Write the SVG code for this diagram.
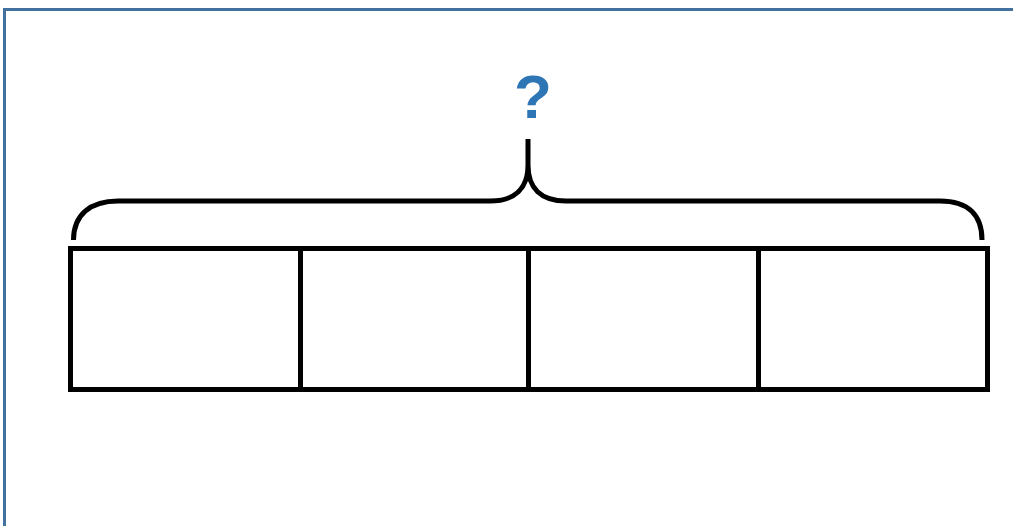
<svg xmlns="http://www.w3.org/2000/svg" width="1013" height="526" viewBox="0 0 1013 526">
<style>
.frame{fill:none;stroke:#41719c;stroke-width:3}
.box{fill:#fff;stroke:#000;stroke-width:5}
.brace{fill:none;stroke:#000;stroke-width:5;stroke-linecap:butt}
.q{font-family:"Liberation Sans",Arial,sans-serif;font-weight:bold;font-size:62px;fill:#2e75b6}
</style>
<rect width="1013" height="526" fill="#fff"/>
<rect class="frame" x="4.5" y="9.5" width="1020" height="530"/>
<g id="bar">
<rect class="box" x="70.5" y="248.5" width="230" height="141"/>
<rect class="box" x="300.5" y="248.5" width="228" height="141"/>
<rect class="box" x="528.5" y="248.5" width="230" height="141"/>
<rect class="box" x="758.5" y="248.5" width="229" height="141"/>
</g>
<g id="connectors">
<path class="brace" d="M73.5,240 C73.5,215 90,201 118,201 L490,201 C515,201 528,188 528,165 L528,139 M528,165 C528,188 541,201 566,201 L940,201 C968,201 982,215 982,240"/>
</g>
<g id="label">
<text class="q" x="533" y="118" text-anchor="middle">?</text>
</g>
</svg>
